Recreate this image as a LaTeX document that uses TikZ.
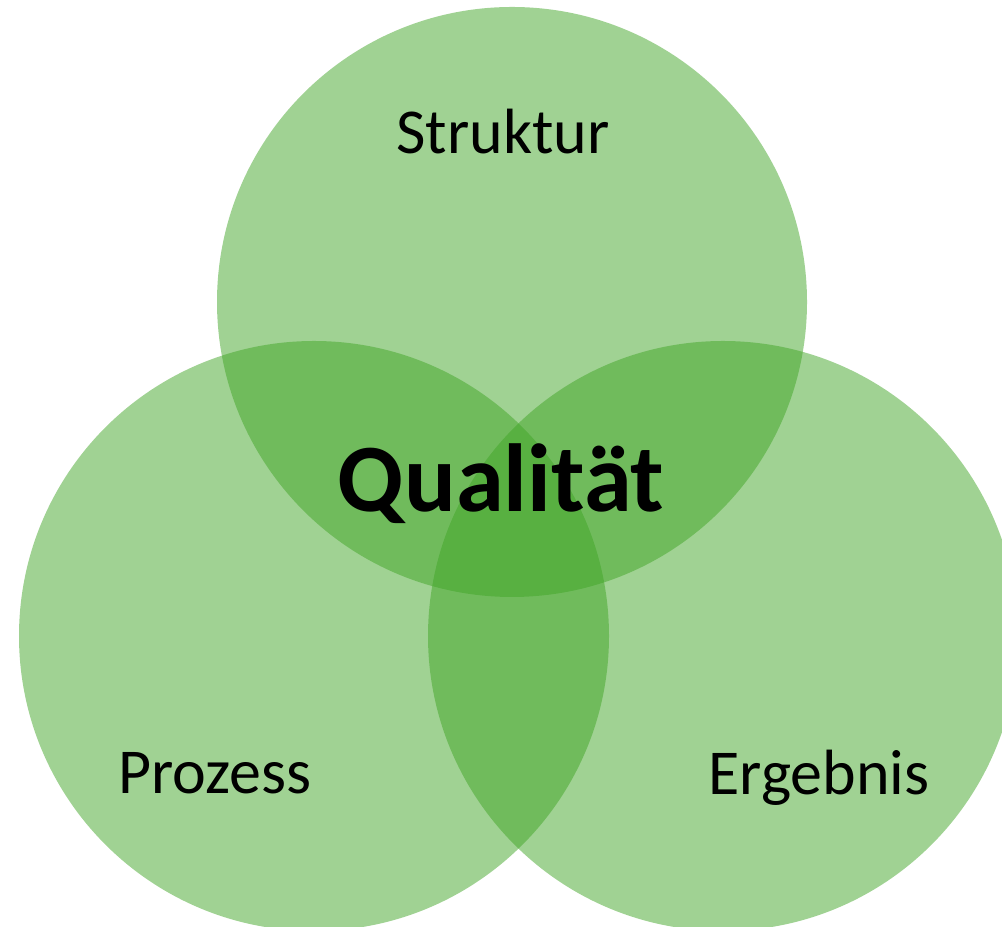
\documentclass[tikz,border=0pt]{standalone}
\usepackage{fontspec}
\setmainfont{Carlito}
\definecolor{venngreen}{RGB}{65,165,39}

\begin{document}
\begin{tikzpicture}[
    ring/.style={circle,fill=venngreen,fill opacity=0.5,minimum size=11.8cm,inner sep=0pt},
    label/.style={font=\fontsize{36.4}{42}\selectfont,text=black}
  ]
        % Canvas
        \useasboundingbox (0,0) rectangle (20.04,18.54);

        % Circles
        \node[ring] (struktur) at (10.24,12.5) {};
        \node[ring] (prozess) at (6.28,5.82) {};
        \node[ring] (ergebnis) at (14.46,5.82) {};

        % Labels
        \node[label] (tStruktur) at (10.06,15.9) {Struktur};
        \node[label] (tProzess) at (4.3,3.08) {Prozess};
        \node[label] (tErgebnis) at (16.38,2.98) {Ergebnis};
        \node[font=\fontsize{55}{62}\selectfont\bfseries] (tQualitaet) at (10.02,8.86) {Qualität};
      \end{tikzpicture}
\end{document}
